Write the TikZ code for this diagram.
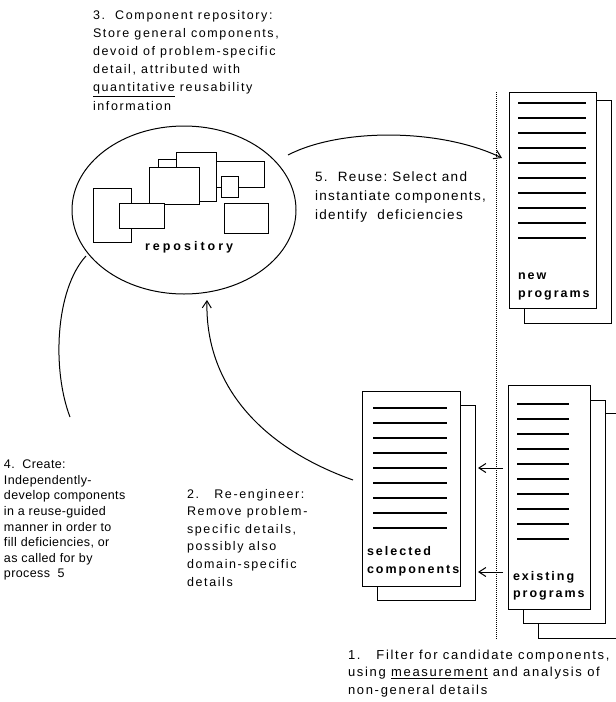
\documentclass[tikz,border=0pt]{standalone}
\usepackage{fontspec}
\setmainfont{Liberation Sans}
\newfontfamily\txtA{Liberation Sans}[LetterSpace=10]
\newfontfamily\txtC{Liberation Sans}[LetterSpace=13]
\newfontfamily\txtB{Liberation Sans}[LetterSpace=3]
\newfontfamily\lblf{Liberation Sans}[LetterSpace=16]
\newfontfamily\lblg{Liberation Sans}[LetterSpace=24]
\usetikzlibrary{arrows.meta,shapes.geometric}
\begin{document}
\begin{tikzpicture}[x=1pt,y=-1pt,
  every node/.style={inner sep=0pt,outer sep=0pt},
  desc/.style={anchor=north west,align=left},
  lbl/.style={anchor=base west,font=\lblf\bfseries\fontsize{12.5}{18}\selectfont},
  pagebox/.style={draw,line width=1pt,fill=white},
  tline/.style={line width=1.5pt},
  box/.style={draw,line width=1pt,fill=white},
  arr/.style={line width=1pt,-{Straight Barb[length=7pt,width=9pt,line width=1pt]}},
  curve/.style={line width=1pt}]
\useasboundingbox (0,0) rectangle (616,702);
\clip (0,0) rectangle (616,702);

% repository ellipse
\node[draw,ellipse,line width=1pt,minimum width=224pt,minimum height=168pt] (rep) at (184,210) {};
\draw[box] (216,161) rectangle (264,187);
\draw[box] (221,176) rectangle (238,197);
\draw[box] (176,152) rectangle (216,201);
\draw[box] (158,159) rectangle (176,167);
\draw[box] (149,167) rectangle (199,204);
\draw[box] (93,188) rectangle (131,242);
\draw[box] (119,203) rectangle (164,228);
\draw[box] (224,203) rectangle (268,233);
\node[lbl,font=\lblg\bfseries\fontsize{12.5}{18}\selectfont] (replbl) at (145,250) {repository};

% dotted separator
\coordinate (dtop) at (496,92);
\coordinate (dbot) at (496,640);
\draw[line width=0.9pt,dash pattern=on 1pt off 1pt] (dtop) -- (dbot);

% new programs
\node[pagebox,minimum width=87pt,minimum height=223pt] (npb) at (567.5,211.5) {};
\node[pagebox,minimum width=87pt,minimum height=216pt] (npf) at (552.5,200) {};
\foreach \k in {0,...,9} \draw[tline] (518,{103+15*\k}) -- (586,{103+15*\k});
\node[lbl] (np1) at (518,279) {new};
\node[lbl] (np2) at (518,297) {programs};

% existing programs
\node[pagebox,minimum width=92pt,minimum height=225pt] (exc) at (584,525.5) {};
\node[pagebox,minimum width=82pt,minimum height=223pt] (exb) at (564,511.5) {};
\node[pagebox,minimum width=82pt,minimum height=224pt] (exf) at (549,497) {};
\foreach \k in {0,...,9} \draw[tline] (517,{404+15*\k}) -- (569,{404+15*\k});
\node[lbl] (ex1) at (513,580) {existing};
\node[lbl] (ex2) at (513,597) {programs};

% selected components
\node[pagebox,minimum width=98pt,minimum height=195pt] (scb) at (426,502.5) {};
\node[pagebox,minimum width=98pt,minimum height=195pt] (scf) at (411,488.5) {};
\foreach \k in {0,...,8} \draw[tline] (373,{408+15*\k}) -- (447,{408+15*\k});
\node[lbl] (sc1) at (367,555) {selected};
\node[lbl] (sc2) at (367,573) {components};

% arrows
\coordinate (r5s) at (288,155);
\coordinate (r5e) at (502,158);
\draw[arr] (r5s) .. controls (340,128) and (440,128) .. (r5e);

\coordinate (f1s) at (503,468);
\coordinate (f1e) at (478,468);
\coordinate (f2s) at (503,572);
\coordinate (f2e) at (478,572);
\draw[arr] (f1s) -- (f1e);
\draw[arr] (f2s) -- (f2e);

\coordinate (r2s) at (353,480);
\coordinate (r2e) at (207,300);
\draw[arr] (r2s) .. controls (255,445) and (205,380) .. (r2e);

\coordinate (c4s) at (70,417);
\coordinate (c4e) at (86,256);
\draw[curve] (c4s) .. controls (52,370) and (55,290) .. (c4e);

% texts
\node[desc,font=\txtC\fontsize{12.5}{18.2}\selectfont] (t3) at (93,10)
 {3.\ \ Component repository:\\Store general components,\\devoid of problem-specific\\detail, attributed with\\\underline{quantitative} reusability\\information};
\node[desc,font=\txtA\fontsize{13.5}{19}\selectfont] (t5) at (315,172)
 {5.\ \ Reuse:\ Select and\\instantiate components,\\identify\ \ deficiencies};
\node[desc,font=\txtB\fontsize{12.5}{15.6}\selectfont] (t4) at (4,460)
 {4.\ \ Create:\\Independently-\\develop components\\in a reuse-guided\\manner in order to\\fill deficiencies, or\\as called for by\\process\ \ 5};
\node[desc,font=\txtC\fontsize{12.5}{17.6}\selectfont] (t2) at (187,489)
 {2.\ \ \ Re-engineer:\\Remove problem-\\specific details,\\possibly also\\domain-specific\\details};
\node[desc,font=\txtC\fontsize{13}{17.5}\selectfont] (t1) at (348,650)
 {1.\ \ \ Filter for candidate components,\\using \underline{measurement} and analysis of\\non-general details};
\end{tikzpicture}
\end{document}
